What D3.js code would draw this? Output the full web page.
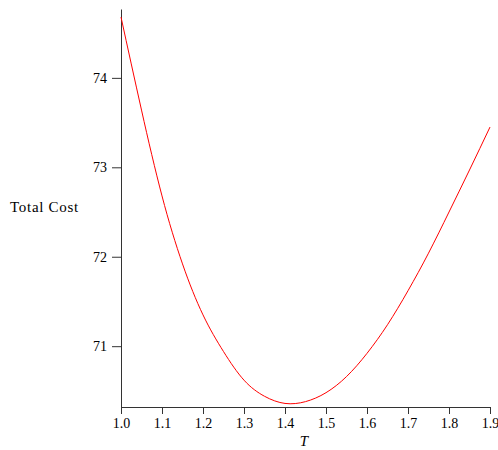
<!DOCTYPE html>
<html>
<head>
<meta charset="utf-8">
<script src="https://cdn.jsdelivr.net/npm/d3@7"></script>
<style>
  body { margin: 0; background: #fff; }
  svg text { font-family: "Liberation Serif", "DejaVu Serif", serif; fill: #000; }
</style>
</head>
<body>
<div id="chart"></div>
<script>
// curva de costo total
const tValues = [1.00, 1.05, 1.10, 1.15, 1.20, 1.25, 1.30, 1.35, 1.40, 1.45,
                 1.50, 1.55, 1.60, 1.65, 1.70, 1.75, 1.80, 1.85, 1.90];
const costValues = [74.68, 73.64, 72.68, 71.92, 71.35, 70.94, 70.62, 70.44, 70.36, 70.38,
                    70.48, 70.66, 70.92, 71.24, 71.62, 72.04, 72.50, 72.97, 73.45];
const xTicks = [1.0, 1.1, 1.2, 1.3, 1.4, 1.5, 1.6, 1.7, 1.8, 1.9];
const xMinor = [1.05, 1.15, 1.25, 1.35, 1.45, 1.55, 1.65, 1.75, 1.85];
const yTicks = [71, 72, 73, 74];
const yMinor = [70.5, 71.5, 72.5, 73.5, 74.5];

const width = 498, height = 450;

const svg = d3.select('#chart').append('svg')
    .attr('width', width)
    .attr('height', height);

const x = d3.scaleLinear().domain([1.0, 1.9]).range([121, 490]);
const y = d3.scaleLinear().domain([70.32, 74.77]).range([407, 9]);

const axisColor = '#333';

// eje x
const gx = svg.append('g').attr('transform', `translate(0,${y.range()[0]})`);
gx.call(d3.axisBottom(x).tickValues(xMinor).tickSize(4).tickFormat(''));
gx.call(d3.axisBottom(x).tickValues(xTicks).tickSize(7).tickSizeOuter(0).tickFormat(d3.format('.1f')));
gx.selectAll('path').attr('stroke', axisColor);
gx.selectAll('line').attr('stroke', axisColor);
gx.selectAll('text').attr('font-size', 14).attr('dy', null).attr('y', 21);

// eje y
const gy = svg.append('g').attr('transform', `translate(${x.range()[0]},0)`);
gy.call(d3.axisLeft(y).tickValues(yMinor).tickSize(5).tickFormat(''));
gy.call(d3.axisLeft(y).tickValues(yTicks).tickSize(9).tickSizeOuter(0).tickFormat(d3.format('d')));
gy.selectAll('path').attr('stroke', axisColor);
gy.selectAll('line').attr('stroke', axisColor);
gy.selectAll('text').attr('font-size', 14).attr('x', -14);

// etiquetas
svg.append('text')
    .attr('x', 304).attr('y', 446)
    .attr('text-anchor', 'middle')
    .attr('font-size', 15)
    .attr('font-style', 'italic')
    .text('T');

svg.append('text')
    .attr('x', 10).attr('y', 212)
    .attr('font-size', 15)
    .attr('letter-spacing', 0.7)
    .text('Total Cost');

// curva
const data = tValues.map((t, i) => ({ t: t, c: costValues[i] }));
svg.append('path')
    .datum(data)
    .attr('fill', 'none')
    .attr('stroke', '#ff0000')
    .attr('stroke-width', 1)
    .attr('d', d3.line().x(d => x(d.t)).y(d => y(d.c)).curve(d3.curveNatural));
</script>
</body>
</html>
